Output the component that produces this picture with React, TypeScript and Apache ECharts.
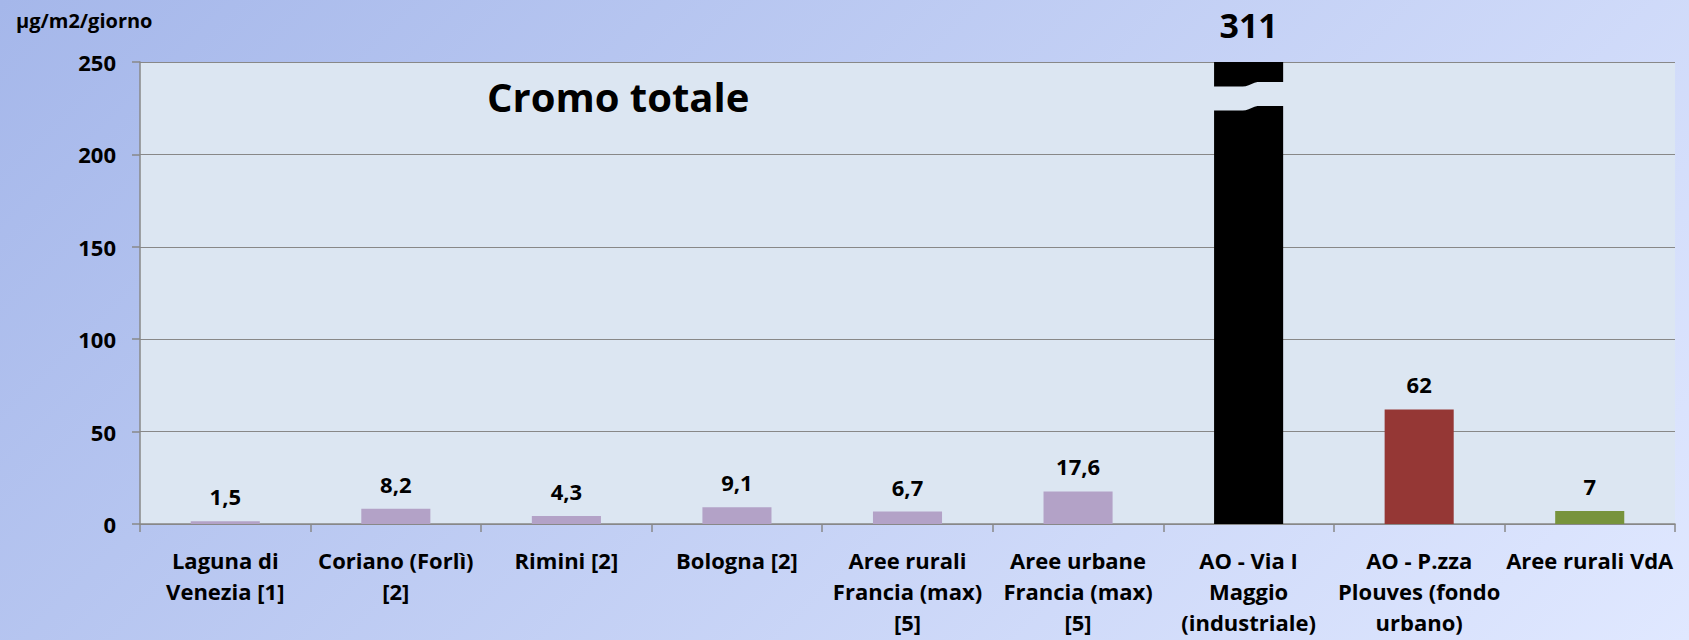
import React, { useEffect, useRef } from "react";
import * as echarts from "echarts";

const categories = [
  "Laguna di\nVenezia [1]",
  "Coriano (Forlì)\n[2]",
  "Rimini [2]",
  "Bologna [2]",
  "Aree rurali\nFrancia (max)\n[5]",
  "Aree urbane\nFrancia (max)\n[5]",
  "AO - Via I\nMaggio\n(industriale)",
  "AO - P.zza\nPlouves (fondo\nurbano)",
  "Aree rurali VdA",
];
const values = [1.5, 8.2, 4.3, 9.1, 6.7, 17.6, 311, 62, 7];
const barColors = [
  "#B3A2C7",
  "#B3A2C7",
  "#B3A2C7",
  "#B3A2C7",
  "#B3A2C7",
  "#B3A2C7",
  "#000000",
  "#953735",
  "#77933C",
];
const Y_MIN = 0;
const Y_MAX = 250;
const Y_STEP = 50;
const unitLabel = "µg/m2/giorno";
const chartTitle = "Cromo totale";

const FONT = '"Open Sans", "DejaVu Sans", sans-serif';
const PLOT_BG = "#DCE6F2";
const GRID_GRAY = "#888888";
const BAR_RATIO = 0.405;

export default function App() {
  const ref = useRef<HTMLDivElement>(null);

  useEffect(() => {
    if (!ref.current) return;
    const chart = echarts.init(ref.current, undefined, { renderer: "svg" });

    const fmt = (v: number) => String(v).replace(".", ",");

    const barData = values.map((v, i) => {
      const item: any = {
        value: Math.min(v, Y_MAX),
        itemStyle: { color: barColors[i] },
      };
      if (v > Y_MAX) {
        item.label = { fontSize: 34, distance: 20 };
      }
      return item;
    });

    const breakData = values
      .map((v, i) => (v > Y_MAX ? [i, Y_MAX] : null))
      .filter((d) => d !== null);

    const option: any = {
      animation: false,
      backgroundColor: "transparent",
      grid: {
        left: 140,
        right: 14,
        top: 62,
        bottom: 116,
        show: true,
        backgroundColor: PLOT_BG,
        borderWidth: 0,
      },
      graphic: [
        {
          type: "text",
          x: 16,
          y: 20,
          style: {
            text: unitLabel,
            font: `bold 20px ${FONT}`,
            fill: "#000",
            verticalAlign: "middle",
            align: "left",
          },
        },
        {
          type: "text",
          x: 487,
          y: 96,
          z: 10,
          style: {
            text: chartTitle,
            font: `bold 40px ${FONT}`,
            fill: "#000",
            verticalAlign: "middle",
            align: "left",
          },
        },
      ],
      xAxis: {
        type: "category",
        data: categories,
        axisLine: { lineStyle: { color: GRID_GRAY, width: 1.5 } },
        axisTick: { show: true, length: 8, lineStyle: { color: GRID_GRAY, width: 1.5 } },
        axisLabel: {
          color: "#000",
          fontFamily: FONT,
          fontWeight: "bold",
          fontSize: 22,
          lineHeight: 31,
          margin: 20,
          interval: 0,
        },
      },
      yAxis: {
        type: "value",
        min: Y_MIN,
        max: Y_MAX,
        interval: Y_STEP,
        axisLine: { show: true, lineStyle: { color: GRID_GRAY, width: 1.5 } },
        axisTick: { show: true, length: 8, lineStyle: { color: GRID_GRAY, width: 1.5 } },
        splitLine: { show: true, lineStyle: { color: GRID_GRAY, width: 1 } },
        axisLabel: {
          color: "#000",
          fontFamily: FONT,
          fontWeight: "bold",
          fontSize: 22,
          margin: 24,
        },
      },
      series: [
        {
          type: "bar",
          data: barData,
          barWidth: `${BAR_RATIO * 100}%`,
          clip: false,
          label: {
            show: true,
            position: "top",
            distance: 14,
            color: "#000",
            fontFamily: FONT,
            fontWeight: "bold",
            fontSize: 22,
            formatter: (p: any) => fmt(values[p.dataIndex]),
          },
        },
        {
          type: "custom",
          z: 5,
          data: breakData,
          renderItem: (params: any, api: any) => {
            const idx = api.value(0);
            const top = api.coord([idx, api.value(1)]);
            const size = api.size([1, 0]);
            const w = size[0] * BAR_RATIO + 2;
            const left = top[0] - w / 2;
            const gap = 24;
            const upper: number[][] = [];
            const steps = 24;
            for (let s = 0; s <= steps; s++) {
              const t = s / steps;
              let k = (t - 0.42) / 0.22;
              k = Math.max(0, Math.min(1, k));
              const sm = k * k * (3 - 2 * k);
              const off = 24.5 - 4.5 * sm;
              upper.push([left + t * w, top[1] + off]);
            }
            const lower = upper.map((p) => [p[0], p[1] + gap]).reverse();
            return {
              type: "polygon",
              shape: { points: upper.concat(lower) },
              style: { fill: PLOT_BG, stroke: null },
            };
          },
        },
      ],
    };

    chart.setOption(option);
    return () => chart.dispose();
  }, []);

  return (
    <div
      ref={ref}
      style={{
        position: "absolute",
        left: 0,
        top: 0,
        width: 1689,
        height: 640,
        background: "linear-gradient(135deg, #A5B7EA 0%, #E0E8FF 100%)",
      }}
    />
  );
}
